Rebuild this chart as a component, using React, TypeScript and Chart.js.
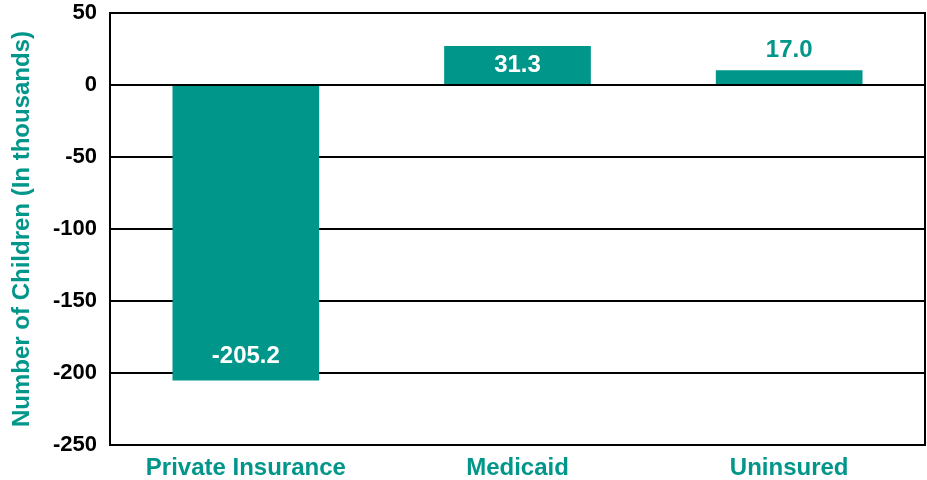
import React, { useEffect, useRef } from "react";
import { Chart, registerables } from "chart.js";

Chart.register(...registerables);

const categories = ["Private Insurance", "Medicaid", "Uninsured"];
const barValues = [-205.2, 27.1, 10.2];
const valueLabels = ["-205.2", "31.3", "17.0"];
const yMin = -250;
const yMax = 50;
const yStep = 50;
const yTitle = "Number of Children (In thousands)";

const TEAL = "#00968A";
const FONT = "'Liberation Sans', Arial, sans-serif";

export default function App() {
  const ref = useRef<HTMLCanvasElement | null>(null);

  useEffect(() => {
    document.body.style.margin = "0";
    const canvas = ref.current;
    if (!canvas) return;

    const overlay = {
      id: "overlay",
      afterDatasetsDraw(chart: any) {
        const { ctx, chartArea } = chart;
        const y = chart.scales.y;
        ctx.save();
        ctx.strokeStyle = "#000";
        ctx.lineWidth = 2;
        const z = y.getPixelForValue(0);
        ctx.beginPath();
        ctx.moveTo(chartArea.left, z);
        ctx.lineTo(chartArea.right, z);
        ctx.stroke();
        ctx.strokeRect(chartArea.left, chartArea.top, chartArea.right - chartArea.left, chartArea.bottom - chartArea.top);

        const meta = chart.getDatasetMeta(0);
        ctx.font = `bold 24px ${FONT}`;
        ctx.textAlign = "center";
        ctx.textBaseline = "middle";
        meta.data.forEach((el: any, i: number) => {
          const h = Math.abs(el.base - el.y);
          let ty: number;
          let color = "#fff";
          if (barValues[i] < 0) {
            ty = el.y - 24;
          } else if (h > 30) {
            ty = (el.y + el.base) / 2;
          } else {
            ty = el.y - 20;
            color = TEAL;
          }
          ctx.fillStyle = color;
          ctx.fillText(valueLabels[i], el.x, ty);
        });
        ctx.restore();
      },
    };

    const chart = new Chart(canvas, {
      type: "bar",
      data: {
        labels: categories,
        datasets: [
          {
            data: barValues,
            backgroundColor: TEAL,
            borderWidth: 0,
            barPercentage: 0.54,
            categoryPercentage: 1,
          },
        ],
      },
      options: {
        responsive: false,
        animation: false,
        devicePixelRatio: 1,
        layout: { padding: { top: 13, right: 2, left: 0, bottom: 0 } },
        plugins: { legend: { display: false }, tooltip: { enabled: false } },
        scales: {
          x: {
            grid: { display: false, drawTicks: false },
            border: { display: false },
            ticks: {
              color: TEAL,
              font: { family: FONT, size: 24, weight: "bold" },
              padding: 9,
              maxRotation: 0,
            },
            afterFit(scale: any) {
              scale.height = 35;
              scale.paddingLeft = 0;
              scale.paddingRight = 0;
            },
          },
          y: {
            min: yMin,
            max: yMax,
            grid: { color: "#000", lineWidth: 2, drawTicks: false },
            border: { display: true, color: "#000", width: 2 },
            ticks: {
              stepSize: yStep,
              color: "#000",
              font: { family: FONT, size: 22, weight: "bold" },
              padding: 13,
            },
            title: {
              display: true,
              text: yTitle,
              color: TEAL,
              font: { family: FONT, size: 24, weight: "bold" },
              padding: { top: 8, bottom: 0 },
            },
            afterFit(scale: any) {
              scale.width = 110;
              scale.paddingTop = 0;
              scale.paddingBottom = 0;
            },
          },
        },
      },
      plugins: [overlay],
    } as any);

    return () => chart.destroy();
  }, []);

  return (
    <div style={{ width: 927, height: 480 }}>
      <canvas ref={ref} width={927} height={480} />
    </div>
  );
}
